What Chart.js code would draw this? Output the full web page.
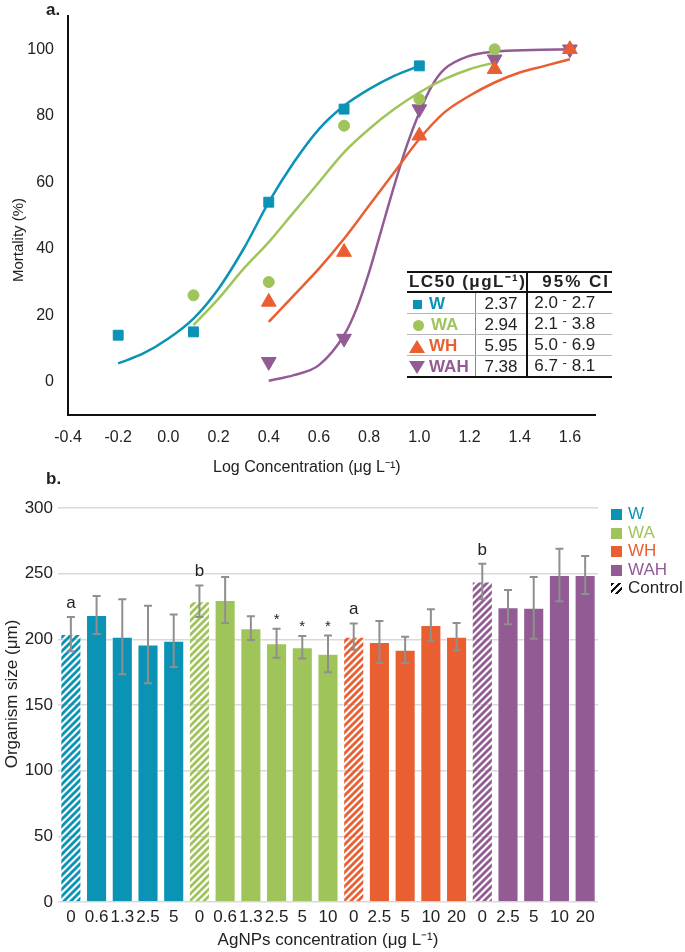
<!DOCTYPE html>
<html>
<head>
<meta charset="utf-8">
<script src="https://cdn.jsdelivr.net/npm/chart.js@4.4.0/dist/chart.umd.min.js"></script>
<style>
body { margin: 0; background: #fff; font-family: "Liberation Sans", Arial, sans-serif; color: #222; }
#page { position: relative; width: 685px; height: 952px; overflow: hidden; }
#topBox { position: absolute; left: 0; top: 0; width: 685px; height: 475px; }
#botBox { position: absolute; left: 0; top: 475px; width: 685px; height: 477px; }
.panel { position: absolute; font-weight: bold; font-size: 17px; line-height: 20px; }
.axisTitle { position: absolute; white-space: nowrap; line-height: 18px; }
#lcTable { position: absolute; left: 407px; top: 271px; border-collapse: collapse; font-size: 17px; }
#lcTable td, #lcTable th { padding: 0; white-space: nowrap; }
#lcTable th { height: 18px; line-height: 18px; font-weight: bold; text-align: left; border-top: 2px solid #111; border-bottom: 2px solid #111; }
#lcTable tr.row td { height: 19px; line-height: 19px; border-bottom: 1px solid #b5b5b5; }
#lcTable tr.row:last-child td { border-bottom: 2px solid #111; }
.mk { display: inline-block; margin: 0 7px 0 6px; vertical-align: middle; }
.lab { font-weight: bold; }
#legend { position: absolute; left: 611px; top: 505px; font-size: 17px; }
#legend div { height: 18.5px; line-height: 18.5px; white-space: nowrap; }
#legend span.box { display: inline-block; width: 11px; height: 11px; margin-right: 6px; vertical-align: -1px; }
</style>
</head>
<body>
<div id="page">
  <div id="topBox"><canvas id="mortChart"></canvas></div>
  <div id="botBox"><canvas id="sizeChart"></canvas></div>
  <div class="panel" style="left:46px; top:0px;">a.</div>
  <div class="panel" style="left:46px; top:469px;">b.</div>
  <div class="axisTitle" style="left:18px; top:240px; font-size:15px; transform: translate(-50%, -50%) rotate(-90deg);">Mortality (%)</div>
  <div class="axisTitle" style="left:213px; top:458px; font-size:16px;">Log Concentration (μg L⁻¹)</div>
  <div class="axisTitle" style="left:12px; top:694px; font-size:17px; transform: translate(-50%, -50%) rotate(-90deg);">Organism size (μm)</div>
  <table id="lcTable"></table>
  <div id="legend"></div>
</div>
<script>
// ----------------------
// DATA - panel a (mortality vs log concentration)
// ----------------------
const groups = ["W", "WA", "WH", "WAH"];
const groupColors = ["#0a93b5", "#9fc55a", "#e95f32", "#925b94"];

const wLogConc = [-0.2, 0.1, 0.4, 0.7, 1.0];
const wMortality = [14, 15, 54, 82, 95];
const waLogConc = [0.1, 0.4, 0.7, 1.0, 1.3];
const waMortality = [26, 30, 77, 85, 100];
const whLogConc = [0.4, 0.7, 1.0, 1.3, 1.6];
const whMortality = [24, 39, 74, 94, 100];
const wahLogConc = [0.4, 0.7, 1.0, 1.3, 1.6];
const wahMortality = [6, 13, 82, 97, 100];

// fitted curves
const wFitX = [-0.2, -0.1, 0, 0.1, 0.2, 0.3, 0.4, 0.5, 0.6, 0.7, 0.8, 0.9, 1.0];
const wFitY = [5.5, 8.5, 13, 19, 28, 40, 54, 66, 76, 83, 88, 92, 95];
const waFitX = [0.1, 0.2, 0.3, 0.4, 0.5, 0.6, 0.7, 0.8, 0.9, 1.0, 1.1, 1.2, 1.3];
const waFitY = [17, 25, 34, 42, 51, 60, 69, 76, 82, 87, 91, 94, 96];
const whFitX = [0.4, 0.5, 0.6, 0.7, 0.8, 0.9, 1.0, 1.1, 1.2, 1.3, 1.4, 1.5, 1.6];
const whFitY = [18, 26, 34, 43, 53, 63, 73, 81, 86, 90, 93, 95, 97];
const wahFitX = [0.4, 0.5, 0.6, 0.7, 0.75, 0.8, 0.85, 0.9, 0.95, 1.0, 1.05, 1.1, 1.2, 1.3, 1.45, 1.6];
const wahFitY = [0.3, 2, 5, 14, 22, 33, 46, 59, 71, 81, 89, 94, 98, 99.3, 99.8, 100];

const logTicks = [-0.4, -0.2, 0, 0.2, 0.4, 0.6, 0.8, 1.0, 1.2, 1.4, 1.6];
const mortalityTicks = [0, 20, 40, 60, 80, 100];

// LC50 table
const lc50 = ["2.37", "2.94", "5.95", "7.38"];
const ciLow = ["2.0", "2.1", "5.0", "6.7"];
const ciHigh = ["2.7", "3.8", "6.9", "8.1"];

// ----------------------
// DATA - panel b (organism size)
// ----------------------
const concLabels = ["0", "0.6", "1.3", "2.5", "5", "0", "0.6", "1.3", "2.5", "5", "10",
                    "0", "2.5", "5", "10", "20", "0", "2.5", "5", "10", "20"];
const barGroup = [0, 0, 0, 0, 0, 1, 1, 1, 1, 1, 1, 2, 2, 2, 2, 2, 3, 3, 3, 3, 3];
const sizeMeans = [204, 218.5, 202, 196, 199, 229, 230, 208.5, 197, 194, 189,
                   202, 198, 192, 211, 202, 244, 224.5, 224, 249, 249];
const sizeErrors = [13, 14.5, 28.5, 29.5, 20, 12, 17.5, 9, 11, 8.5, 14,
                    10, 16, 10, 12, 10.5, 13.5, 13, 23.5, 20, 14.5];
const sigMarks = ["a", "", "", "", "", "b", "", "", "*", "*", "*",
                  "a", "", "", "", "", "b", "", "", "", ""];

const FONT = "'Liberation Sans', Arial, sans-serif";

// ----------------------
// PANEL A
// ----------------------
function toPoints(xs, ys) {
    return xs.map((x, i) => ({ x: x, y: ys[i] }));
}

const markerStyle = [
    { pointStyle: "rect", radius: 7, rotation: 0 },
    { pointStyle: "circle", radius: 5.5, rotation: 0 },
    { pointStyle: "triangle", radius: 8.5, rotation: 0 },
    { pointStyle: "triangle", radius: 8.5, rotation: 180 }
];

const pointSets = [[wLogConc, wMortality], [waLogConc, waMortality], [whLogConc, whMortality], [wahLogConc, wahMortality]];
const fitSets = [[wFitX, wFitY], [waFitX, waFitY], [whFitX, whFitY], [wahFitX, wahFitY]];

const mortDatasets = [];
groups.forEach((g, i) => {
    mortDatasets.push({
        label: g + " fit",
        data: toPoints(fitSets[i][0], fitSets[i][1]),
        showLine: true,
        borderColor: groupColors[i],
        borderWidth: 2.5,
        pointRadius: 0,
        cubicInterpolationMode: "monotone",
        order: 2
    });
    mortDatasets.push({
        label: g,
        data: toPoints(pointSets[i][0], pointSets[i][1]),
        backgroundColor: groupColors[i],
        borderColor: groupColors[i],
        borderWidth: 1,
        pointStyle: markerStyle[i].pointStyle,
        pointRadius: markerStyle[i].radius,
        pointRotation: markerStyle[i].rotation,
        order: 1
    });
});

new Chart(document.getElementById("mortChart"), {
    type: "scatter",
    data: { datasets: mortDatasets },
    options: {
        responsive: true,
        maintainAspectRatio: false,
        animation: false,
        layout: { padding: { top: 16, right: 90, bottom: 0, left: 0 } },
        plugins: { legend: { display: false }, tooltip: { enabled: false } },
        scales: {
            x: {
                type: "linear", min: -0.4, max: 1.7,
                afterBuildTicks: s => { s.ticks = logTicks.map(v => ({ value: v })); },
                afterFit: s => { s.height = 60; },
                ticks: { callback: v => v.toFixed(1), color: "#222", padding: 13, font: { family: FONT, size: 16 } },
                grid: { display: false, drawTicks: false },
                border: { color: "#111", width: 2 }
            },
            y: {
                min: -10, max: 110,
                afterBuildTicks: s => { s.ticks = mortalityTicks.map(v => ({ value: v })); },
                // labels sit well inside the range, so no extra room is needed above the axis
                afterFit: s => { s.width = 68; s.paddingTop = 0; s.paddingBottom = 0; },
                ticks: { color: "#222", padding: 14, font: { family: FONT, size: 16 } },
                grid: { display: false, drawTicks: false },
                border: { color: "#111", width: 2 }
            }
        }
    }
});

// table
const markerHtml = [
    c => `<span class="mk" style="width:9px;height:9px;background:${c}"></span>`,
    c => `<span class="mk" style="width:11px;height:11px;border-radius:50%;background:${c}"></span>`,
    c => `<span class="mk" style="width:0;height:0;border-left:8px solid transparent;border-right:8px solid transparent;border-bottom:13px solid ${c};margin-left:2px;margin-right:4px"></span>`,
    c => `<span class="mk" style="width:0;height:0;border-left:8px solid transparent;border-right:8px solid transparent;border-top:13px solid ${c};margin-left:2px;margin-right:4px"></span>`
];
let tableHtml = `<tr><th colspan="2" style="letter-spacing:1.4px;padding-left:2px">LC50 (μgL⁻¹)</th>` +
    `<th style="letter-spacing:2px;padding-left:14px;border-left:2px solid #111">95% CI</th></tr>`;
groups.forEach((g, i) => {
    tableHtml += `<tr class="row"><td style="width:67px">${markerHtml[i](groupColors[i])}<span class="lab" style="color:${groupColors[i]}">${g}</span></td>` +
        `<td style="width:50px;text-align:center;border-left:1px solid #888">${lc50[i]}</td>` +
        `<td style="width:78px;padding-left:6px;border-left:2px solid #111">${ciLow[i]} <span style="position:relative;top:-4px;font-size:13px">-</span> ${ciHigh[i]}</td></tr>`;
});
document.getElementById("lcTable").innerHTML = tableHtml;

// ----------------------
// PANEL B
// ----------------------
function makeHatch(color) {
    const c = document.createElement("canvas");
    c.width = 7; c.height = 7;
    const g = c.getContext("2d");
    g.strokeStyle = color;
    g.lineWidth = 2.8;
    g.beginPath();
    g.moveTo(0, 7); g.lineTo(7, 0);
    g.moveTo(-3.5, 3.5); g.lineTo(3.5, -3.5);
    g.moveTo(3.5, 10.5); g.lineTo(10.5, 3.5);
    g.stroke();
    return g.createPattern(c, "repeat");
}

const barColors = concLabels.map((c, i) => c === "0" ? makeHatch(groupColors[barGroup[i]]) : groupColors[barGroup[i]]);

const errorBarPlugin = {
    id: "errorBars",
    afterDatasetsDraw(chart) {
        const ctx = chart.ctx;
        const yScale = chart.scales.y;
        const meta = chart.getDatasetMeta(0);
        ctx.save();
        meta.data.forEach((bar, i) => {
            const top = yScale.getPixelForValue(sizeMeans[i] + sizeErrors[i]);
            const bottom = yScale.getPixelForValue(sizeMeans[i] - sizeErrors[i]);
            ctx.strokeStyle = "#8f8f8f";
            ctx.lineWidth = 2;
            ctx.beginPath();
            ctx.moveTo(bar.x, top); ctx.lineTo(bar.x, bottom);
            ctx.moveTo(bar.x - 4, top); ctx.lineTo(bar.x + 4, top);
            ctx.moveTo(bar.x - 4, bottom); ctx.lineTo(bar.x + 4, bottom);
            ctx.stroke();
            if (sigMarks[i]) {
                ctx.fillStyle = "#222";
                ctx.textAlign = "center";
                ctx.textBaseline = "middle";
                if (sigMarks[i] === "*") {
                    ctx.font = "15px " + FONT;
                    ctx.fillText("*", bar.x, top - 9);
                } else {
                    ctx.font = "17px " + FONT;
                    ctx.fillText(sigMarks[i], bar.x, top - 14);
                }
            }
        });
        ctx.restore();
    }
};

new Chart(document.getElementById("sizeChart"), {
    type: "bar",
    data: {
        labels: concLabels,
        datasets: [{
            label: "Organism size",
            data: sizeMeans,
            backgroundColor: barColors,
            borderColor: "rgba(255,255,255,0.35)",
            borderWidth: 1,
            categoryPercentage: 1,
            barPercentage: 0.82
        }]
    },
    options: {
        responsive: true,
        maintainAspectRatio: false,
        animation: false,
        layout: { padding: { top: 33, right: 87, bottom: 1, left: 0 } },
        plugins: { legend: { display: false }, tooltip: { enabled: false } },
        scales: {
            x: {
                afterFit: s => { s.height = 49; },
                ticks: { color: "#222", padding: 5, autoSkip: false, maxRotation: 0, font: { family: FONT, size: 17 } },
                grid: { display: false, drawTicks: false },
                border: { display: false },
                title: { display: true, text: "AgNPs concentration (μg L⁻¹)", color: "#222", padding: 0, font: { family: FONT, size: 17 } }
            },
            y: {
                min: 0, max: 300,
                afterFit: s => { s.width = 58; },
                ticks: { stepSize: 50, color: "#222", padding: 5, font: { family: FONT, size: 17 } },
                grid: { color: "#d9d9d9", lineWidth: 1.5, drawTicks: false },
                border: { display: false }
            }
        }
    },
    plugins: [errorBarPlugin]
});

// legend
let legendHtml = "";
groups.forEach((g, i) => {
    legendHtml += `<div style="color:${groupColors[i]}"><span class="box" style="background:${groupColors[i]}"></span>${g}</div>`;
});
legendHtml += `<div><span class="box" style="background:repeating-linear-gradient(135deg, #111 0 2.5px, #fff 2.5px 5px)"></span>Control</div>`;
document.getElementById("legend").innerHTML = legendHtml;
</script>
</body>
</html>
